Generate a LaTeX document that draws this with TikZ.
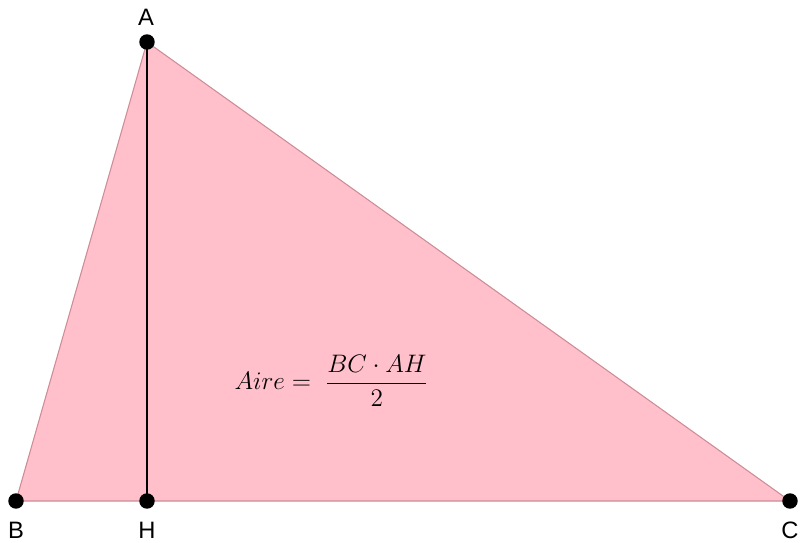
\documentclass[tikz,border=0pt]{standalone}
\usepackage{fontspec}
\newfontfamily\labelfont{Liberation Sans}
\definecolor{aireFill}{RGB}{255,192,203}
\definecolor{aireEdge}{RGB}{205,140,150}
\tikzset{
  pt/.style={circle,fill=black,inner sep=0pt,minimum size=8.8pt},
  ptlabel/.style={font=\labelfont\fontsize{13.5}{15}\selectfont,inner sep=0pt}
}
\begin{document}
\begin{tikzpicture}[x=0.02cm,y=-0.02cm]
  \useasboundingbox (0,0) rectangle (802,542);
  % vertices of the triangle
  \coordinate (A) at (147,42);
  \coordinate (B) at (16,501);
  \coordinate (C) at (790,501);
  \coordinate (H) at (147,501);
  % shaded triangle
  \draw[fill=aireFill,draw=aireEdge,line width=0.6pt] (A) -- (B) -- (C) -- cycle;
  % height AH
  \draw[line width=1.3pt] (A) -- (H);
  % points
  \node[pt] (a) at (A) {};
  \node[pt] (b) at (B) {};
  \node[pt] (c) at (C) {};
  \node[pt] (h) at (H) {};
  \node[ptlabel] at (146,17) {A};
  \node[ptlabel] at (16,530) {B};
  \node[ptlabel] at (147,530) {H};
  \node[ptlabel] at (790,530.5) {C};
  % area formula
  \node[font=\fontsize{14.8}{18}\selectfont] (aire) at (331.5,381)
    {$\displaystyle Aire=\;\frac{BC\cdot AH}{2}$};
\end{tikzpicture}
\end{document}
